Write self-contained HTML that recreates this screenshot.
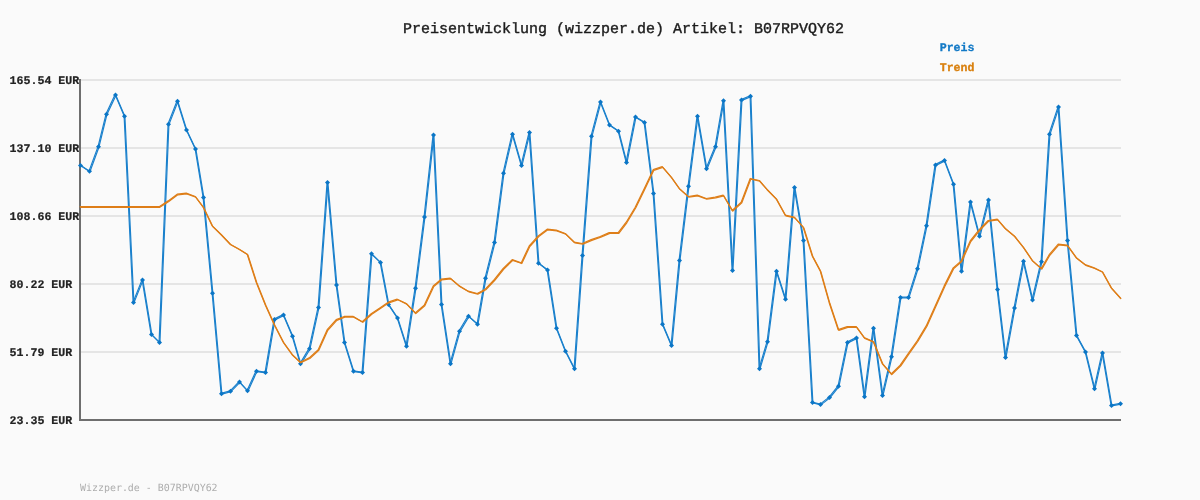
<!DOCTYPE html>
<html lang="de"><head><meta charset="utf-8"><title>Preisentwicklung (wizzper.de) Artikel: B07RPVQY62</title>
<style>
html,body{margin:0;padding:0;background:#fafafa;}
body{width:1200px;height:500px;overflow:hidden;}
svg{display:block;text-rendering:geometricPrecision;}
.title{font-family:"Liberation Mono","DejaVu Sans Mono",monospace;font-size:15px;fill:#1c1c1c;stroke:#1c1c1c;stroke-width:.4px;}
.ylab text{font-family:"Liberation Mono","DejaVu Sans Mono",monospace;font-weight:bold;font-size:11.6px;fill:#222;stroke:#222;stroke-width:.2px;}
.leg{font-family:"Liberation Mono","DejaVu Sans Mono",monospace;font-weight:bold;font-size:11.6px;}
.foot{font-family:"DejaVu Sans Mono","Liberation Mono",monospace;font-size:9.95px;fill:#adadad;}
</style></head><body>
<svg width="1200" height="500" viewBox="0 0 1200 500">
<rect width="1200" height="500" fill="#fafafa"/>
<text class="title" x="403" y="32.5">Preisentwicklung (wizzper.de) Artikel: B07RPVQY62</text>
<text class="leg" x="939.7" y="51.2" fill="#1279c6" stroke="#1279c6" stroke-width=".3">Preis</text>
<text class="leg" x="939.7" y="71.2" fill="#d9800f" stroke="#d9800f" stroke-width=".3">Trend</text>
<rect x="80" y="79" width="1041" height="2" fill="#e5e5e5"/><rect x="80" y="147" width="1041" height="2" fill="#e5e5e5"/><rect x="80" y="215" width="1041" height="2" fill="#e5e5e5"/><rect x="80" y="283" width="1041" height="2" fill="#e5e5e5"/><rect x="80" y="351" width="1041" height="2" fill="#e5e5e5"/>
<g class="ylab"><text x="9.6" y="84">165.54 EUR</text><text x="9.6" y="152">137.10 EUR</text><text x="9.6" y="220">108.66 EUR</text><text x="9.6" y="288">80.22 EUR</text><text x="9.6" y="356">51.79 EUR</text><text x="9.6" y="424">23.35 EUR</text></g>
<rect x="79" y="79" width="2" height="342" fill="#6e6e6e"/>
<rect x="79" y="419" width="1042" height="2" fill="#6e6e6e"/>
<g fill="none" stroke="#1a80cc" stroke-width="1.2" stroke-linejoin="round" stroke-linecap="round"><polyline id="p1a80cc" points="80.5,165.4 89.5,171.3 98.5,146.8 106.5,114.2 115.5,95.0 124.5,116.2 133.5,302.5 142.5,280.0 151.5,334.5 159.5,342.5 168.5,124.2 177.5,101.2 186.5,130.0 195.5,149.0 203.5,197.5 212.5,293.2 221.5,393.8 230.5,391.2 239.5,382.0 247.5,390.8 256.5,371.2 265.5,372.5 274.5,319.5 283.5,315.0 292.5,336.2 300.5,363.8 309.5,348.8 318.5,307.5 327.5,182.5 336.5,285.0 344.5,342.5 353.5,371.2 362.5,372.5 371.5,253.8 380.5,262.5 388.5,304.5 397.5,318.0 406.5,346.2 415.5,288.2 424.5,217.0 433.5,135.0 441.5,304.5 450.5,363.8 459.5,331.2 468.5,316.2 477.5,324.2 485.5,278.2 494.5,242.5 503.5,173.2 512.5,134.2 521.5,165.5 529.5,132.5 538.5,263.2 547.5,270.0 556.5,328.2 565.5,351.2 574.5,368.8 582.5,255.5 591.5,136.2 600.5,102.0 609.5,125.0 618.5,131.2 626.5,162.5 635.5,117.0 644.5,122.5 653.5,193.4 662.5,324.2 671.5,345.5 679.5,260.5 688.5,186.2 697.5,116.2 706.5,168.8 715.5,146.8 723.5,100.8 732.5,270.5 741.5,100.0 750.5,96.2 759.5,368.8 767.5,341.8 776.5,271.2 785.5,299.2 794.5,187.5 803.5,240.5 812.5,402.5 820.5,404.5 829.5,397.5 838.5,386.2 847.5,342.5 856.5,338.0 864.5,396.8 873.5,328.2 882.5,395.5 891.5,356.8 900.5,297.5 908.5,297.5 917.5,268.8 926.5,225.8 935.5,165.0 944.5,160.5 953.5,184.2 961.5,271.2 970.5,202.0 979.5,236.2 988.5,200.0 997.5,289.5 1005.5,357.5 1014.5,308.0 1023.5,261.2 1032.5,300.0 1041.5,261.8 1049.5,134.2 1058.5,107.0 1067.5,240.5 1076.5,335.5 1085.5,352.0 1094.5,388.8 1102.5,353.0 1111.5,405.5 1120.5,403.8" transform="translate(-0.4,-0.4)"/><polyline points="80.5,165.4 89.5,171.3 98.5,146.8 106.5,114.2 115.5,95.0 124.5,116.2 133.5,302.5 142.5,280.0 151.5,334.5 159.5,342.5 168.5,124.2 177.5,101.2 186.5,130.0 195.5,149.0 203.5,197.5 212.5,293.2 221.5,393.8 230.5,391.2 239.5,382.0 247.5,390.8 256.5,371.2 265.5,372.5 274.5,319.5 283.5,315.0 292.5,336.2 300.5,363.8 309.5,348.8 318.5,307.5 327.5,182.5 336.5,285.0 344.5,342.5 353.5,371.2 362.5,372.5 371.5,253.8 380.5,262.5 388.5,304.5 397.5,318.0 406.5,346.2 415.5,288.2 424.5,217.0 433.5,135.0 441.5,304.5 450.5,363.8 459.5,331.2 468.5,316.2 477.5,324.2 485.5,278.2 494.5,242.5 503.5,173.2 512.5,134.2 521.5,165.5 529.5,132.5 538.5,263.2 547.5,270.0 556.5,328.2 565.5,351.2 574.5,368.8 582.5,255.5 591.5,136.2 600.5,102.0 609.5,125.0 618.5,131.2 626.5,162.5 635.5,117.0 644.5,122.5 653.5,193.4 662.5,324.2 671.5,345.5 679.5,260.5 688.5,186.2 697.5,116.2 706.5,168.8 715.5,146.8 723.5,100.8 732.5,270.5 741.5,100.0 750.5,96.2 759.5,368.8 767.5,341.8 776.5,271.2 785.5,299.2 794.5,187.5 803.5,240.5 812.5,402.5 820.5,404.5 829.5,397.5 838.5,386.2 847.5,342.5 856.5,338.0 864.5,396.8 873.5,328.2 882.5,395.5 891.5,356.8 900.5,297.5 908.5,297.5 917.5,268.8 926.5,225.8 935.5,165.0 944.5,160.5 953.5,184.2 961.5,271.2 970.5,202.0 979.5,236.2 988.5,200.0 997.5,289.5 1005.5,357.5 1014.5,308.0 1023.5,261.2 1032.5,300.0 1041.5,261.8 1049.5,134.2 1058.5,107.0 1067.5,240.5 1076.5,335.5 1085.5,352.0 1094.5,388.8 1102.5,353.0 1111.5,405.5 1120.5,403.8" transform="translate(0.4,0.4)"/></g>
<g fill="#0b76c6"><path d="M80.5 162.90l2.5 2.5l-2.5 2.5l-2.5-2.5z"/><path d="M89.5 168.85l2.5 2.5l-2.5 2.5l-2.5-2.5z"/><path d="M98.5 144.25l2.5 2.5l-2.5 2.5l-2.5-2.5z"/><path d="M106.5 111.75l2.5 2.5l-2.5 2.5l-2.5-2.5z"/><path d="M115.5 92.50l2.5 2.5l-2.5 2.5l-2.5-2.5z"/><path d="M124.5 113.75l2.5 2.5l-2.5 2.5l-2.5-2.5z"/><path d="M133.5 300.00l2.5 2.5l-2.5 2.5l-2.5-2.5z"/><path d="M142.5 277.50l2.5 2.5l-2.5 2.5l-2.5-2.5z"/><path d="M151.5 332.00l2.5 2.5l-2.5 2.5l-2.5-2.5z"/><path d="M159.5 340.00l2.5 2.5l-2.5 2.5l-2.5-2.5z"/><path d="M168.5 121.75l2.5 2.5l-2.5 2.5l-2.5-2.5z"/><path d="M177.5 98.75l2.5 2.5l-2.5 2.5l-2.5-2.5z"/><path d="M186.5 127.50l2.5 2.5l-2.5 2.5l-2.5-2.5z"/><path d="M195.5 146.50l2.5 2.5l-2.5 2.5l-2.5-2.5z"/><path d="M203.5 195.00l2.5 2.5l-2.5 2.5l-2.5-2.5z"/><path d="M212.5 290.75l2.5 2.5l-2.5 2.5l-2.5-2.5z"/><path d="M221.5 391.25l2.5 2.5l-2.5 2.5l-2.5-2.5z"/><path d="M230.5 388.75l2.5 2.5l-2.5 2.5l-2.5-2.5z"/><path d="M239.5 379.50l2.5 2.5l-2.5 2.5l-2.5-2.5z"/><path d="M247.5 388.25l2.5 2.5l-2.5 2.5l-2.5-2.5z"/><path d="M256.5 368.75l2.5 2.5l-2.5 2.5l-2.5-2.5z"/><path d="M265.5 370.00l2.5 2.5l-2.5 2.5l-2.5-2.5z"/><path d="M274.5 317.00l2.5 2.5l-2.5 2.5l-2.5-2.5z"/><path d="M283.5 312.50l2.5 2.5l-2.5 2.5l-2.5-2.5z"/><path d="M292.5 333.75l2.5 2.5l-2.5 2.5l-2.5-2.5z"/><path d="M300.5 361.25l2.5 2.5l-2.5 2.5l-2.5-2.5z"/><path d="M309.5 346.25l2.5 2.5l-2.5 2.5l-2.5-2.5z"/><path d="M318.5 305.00l2.5 2.5l-2.5 2.5l-2.5-2.5z"/><path d="M327.5 180.00l2.5 2.5l-2.5 2.5l-2.5-2.5z"/><path d="M336.5 282.50l2.5 2.5l-2.5 2.5l-2.5-2.5z"/><path d="M344.5 340.00l2.5 2.5l-2.5 2.5l-2.5-2.5z"/><path d="M353.5 368.75l2.5 2.5l-2.5 2.5l-2.5-2.5z"/><path d="M362.5 370.00l2.5 2.5l-2.5 2.5l-2.5-2.5z"/><path d="M371.5 251.25l2.5 2.5l-2.5 2.5l-2.5-2.5z"/><path d="M380.5 260.00l2.5 2.5l-2.5 2.5l-2.5-2.5z"/><path d="M388.5 302.00l2.5 2.5l-2.5 2.5l-2.5-2.5z"/><path d="M397.5 315.50l2.5 2.5l-2.5 2.5l-2.5-2.5z"/><path d="M406.5 343.75l2.5 2.5l-2.5 2.5l-2.5-2.5z"/><path d="M415.5 285.75l2.5 2.5l-2.5 2.5l-2.5-2.5z"/><path d="M424.5 214.50l2.5 2.5l-2.5 2.5l-2.5-2.5z"/><path d="M433.5 132.50l2.5 2.5l-2.5 2.5l-2.5-2.5z"/><path d="M441.5 302.00l2.5 2.5l-2.5 2.5l-2.5-2.5z"/><path d="M450.5 361.25l2.5 2.5l-2.5 2.5l-2.5-2.5z"/><path d="M459.5 328.75l2.5 2.5l-2.5 2.5l-2.5-2.5z"/><path d="M468.5 313.75l2.5 2.5l-2.5 2.5l-2.5-2.5z"/><path d="M477.5 321.75l2.5 2.5l-2.5 2.5l-2.5-2.5z"/><path d="M485.5 275.75l2.5 2.5l-2.5 2.5l-2.5-2.5z"/><path d="M494.5 240.00l2.5 2.5l-2.5 2.5l-2.5-2.5z"/><path d="M503.5 170.75l2.5 2.5l-2.5 2.5l-2.5-2.5z"/><path d="M512.5 131.75l2.5 2.5l-2.5 2.5l-2.5-2.5z"/><path d="M521.5 163.00l2.5 2.5l-2.5 2.5l-2.5-2.5z"/><path d="M529.5 130.00l2.5 2.5l-2.5 2.5l-2.5-2.5z"/><path d="M538.5 260.75l2.5 2.5l-2.5 2.5l-2.5-2.5z"/><path d="M547.5 267.50l2.5 2.5l-2.5 2.5l-2.5-2.5z"/><path d="M556.5 325.75l2.5 2.5l-2.5 2.5l-2.5-2.5z"/><path d="M565.5 348.75l2.5 2.5l-2.5 2.5l-2.5-2.5z"/><path d="M574.5 366.25l2.5 2.5l-2.5 2.5l-2.5-2.5z"/><path d="M582.5 253.00l2.5 2.5l-2.5 2.5l-2.5-2.5z"/><path d="M591.5 133.75l2.5 2.5l-2.5 2.5l-2.5-2.5z"/><path d="M600.5 99.50l2.5 2.5l-2.5 2.5l-2.5-2.5z"/><path d="M609.5 122.50l2.5 2.5l-2.5 2.5l-2.5-2.5z"/><path d="M618.5 128.75l2.5 2.5l-2.5 2.5l-2.5-2.5z"/><path d="M626.5 160.00l2.5 2.5l-2.5 2.5l-2.5-2.5z"/><path d="M635.5 114.50l2.5 2.5l-2.5 2.5l-2.5-2.5z"/><path d="M644.5 120.00l2.5 2.5l-2.5 2.5l-2.5-2.5z"/><path d="M653.5 190.90l2.5 2.5l-2.5 2.5l-2.5-2.5z"/><path d="M662.5 321.75l2.5 2.5l-2.5 2.5l-2.5-2.5z"/><path d="M671.5 343.00l2.5 2.5l-2.5 2.5l-2.5-2.5z"/><path d="M679.5 258.00l2.5 2.5l-2.5 2.5l-2.5-2.5z"/><path d="M688.5 183.75l2.5 2.5l-2.5 2.5l-2.5-2.5z"/><path d="M697.5 113.75l2.5 2.5l-2.5 2.5l-2.5-2.5z"/><path d="M706.5 166.25l2.5 2.5l-2.5 2.5l-2.5-2.5z"/><path d="M715.5 144.25l2.5 2.5l-2.5 2.5l-2.5-2.5z"/><path d="M723.5 98.25l2.5 2.5l-2.5 2.5l-2.5-2.5z"/><path d="M732.5 268.00l2.5 2.5l-2.5 2.5l-2.5-2.5z"/><path d="M741.5 97.50l2.5 2.5l-2.5 2.5l-2.5-2.5z"/><path d="M750.5 93.75l2.5 2.5l-2.5 2.5l-2.5-2.5z"/><path d="M759.5 366.25l2.5 2.5l-2.5 2.5l-2.5-2.5z"/><path d="M767.5 339.25l2.5 2.5l-2.5 2.5l-2.5-2.5z"/><path d="M776.5 268.75l2.5 2.5l-2.5 2.5l-2.5-2.5z"/><path d="M785.5 296.75l2.5 2.5l-2.5 2.5l-2.5-2.5z"/><path d="M794.5 185.00l2.5 2.5l-2.5 2.5l-2.5-2.5z"/><path d="M803.5 238.00l2.5 2.5l-2.5 2.5l-2.5-2.5z"/><path d="M812.5 400.00l2.5 2.5l-2.5 2.5l-2.5-2.5z"/><path d="M820.5 402.00l2.5 2.5l-2.5 2.5l-2.5-2.5z"/><path d="M829.5 395.00l2.5 2.5l-2.5 2.5l-2.5-2.5z"/><path d="M838.5 383.75l2.5 2.5l-2.5 2.5l-2.5-2.5z"/><path d="M847.5 340.00l2.5 2.5l-2.5 2.5l-2.5-2.5z"/><path d="M856.5 335.50l2.5 2.5l-2.5 2.5l-2.5-2.5z"/><path d="M864.5 394.25l2.5 2.5l-2.5 2.5l-2.5-2.5z"/><path d="M873.5 325.75l2.5 2.5l-2.5 2.5l-2.5-2.5z"/><path d="M882.5 393.00l2.5 2.5l-2.5 2.5l-2.5-2.5z"/><path d="M891.5 354.25l2.5 2.5l-2.5 2.5l-2.5-2.5z"/><path d="M900.5 295.00l2.5 2.5l-2.5 2.5l-2.5-2.5z"/><path d="M908.5 295.00l2.5 2.5l-2.5 2.5l-2.5-2.5z"/><path d="M917.5 266.25l2.5 2.5l-2.5 2.5l-2.5-2.5z"/><path d="M926.5 223.25l2.5 2.5l-2.5 2.5l-2.5-2.5z"/><path d="M935.5 162.50l2.5 2.5l-2.5 2.5l-2.5-2.5z"/><path d="M944.5 158.00l2.5 2.5l-2.5 2.5l-2.5-2.5z"/><path d="M953.5 181.75l2.5 2.5l-2.5 2.5l-2.5-2.5z"/><path d="M961.5 268.75l2.5 2.5l-2.5 2.5l-2.5-2.5z"/><path d="M970.5 199.50l2.5 2.5l-2.5 2.5l-2.5-2.5z"/><path d="M979.5 233.75l2.5 2.5l-2.5 2.5l-2.5-2.5z"/><path d="M988.5 197.50l2.5 2.5l-2.5 2.5l-2.5-2.5z"/><path d="M997.5 287.00l2.5 2.5l-2.5 2.5l-2.5-2.5z"/><path d="M1005.5 355.00l2.5 2.5l-2.5 2.5l-2.5-2.5z"/><path d="M1014.5 305.50l2.5 2.5l-2.5 2.5l-2.5-2.5z"/><path d="M1023.5 258.75l2.5 2.5l-2.5 2.5l-2.5-2.5z"/><path d="M1032.5 297.50l2.5 2.5l-2.5 2.5l-2.5-2.5z"/><path d="M1041.5 259.25l2.5 2.5l-2.5 2.5l-2.5-2.5z"/><path d="M1049.5 131.75l2.5 2.5l-2.5 2.5l-2.5-2.5z"/><path d="M1058.5 104.50l2.5 2.5l-2.5 2.5l-2.5-2.5z"/><path d="M1067.5 238.00l2.5 2.5l-2.5 2.5l-2.5-2.5z"/><path d="M1076.5 333.00l2.5 2.5l-2.5 2.5l-2.5-2.5z"/><path d="M1085.5 349.50l2.5 2.5l-2.5 2.5l-2.5-2.5z"/><path d="M1094.5 386.25l2.5 2.5l-2.5 2.5l-2.5-2.5z"/><path d="M1102.5 350.50l2.5 2.5l-2.5 2.5l-2.5-2.5z"/><path d="M1111.5 403.00l2.5 2.5l-2.5 2.5l-2.5-2.5z"/><path d="M1120.5 401.25l2.5 2.5l-2.5 2.5l-2.5-2.5z"/></g>
<g fill="none" stroke="#de7e18" stroke-width="1.25" stroke-linejoin="round" stroke-linecap="round"><polyline id="pde7e18" points="80.5,207.0 89.5,207.0 98.5,207.0 106.5,207.0 115.5,207.0 124.5,207.0 133.5,207.0 142.5,207.0 151.5,207.0 159.5,207.0 168.5,201.2 177.5,194.5 186.5,193.5 195.5,196.8 203.5,207.5 212.5,226.2 221.5,235.0 230.5,244.5 239.5,249.5 247.5,254.5 256.5,282.5 265.5,305.0 274.5,325.0 283.5,342.5 292.5,355.0 300.5,362.5 309.5,358.2 318.5,350.0 327.5,330.0 336.5,320.0 344.5,316.8 353.5,316.8 362.5,322.0 371.5,314.0 380.5,308.0 388.5,302.5 397.5,299.5 406.5,303.8 415.5,313.2 424.5,305.5 433.5,286.2 441.5,279.5 450.5,278.5 459.5,286.2 468.5,291.5 477.5,293.8 485.5,289.5 494.5,280.0 503.5,268.8 512.5,260.0 521.5,263.2 529.5,246.2 538.5,236.2 547.5,229.5 556.5,230.5 565.5,233.8 574.5,242.5 582.5,243.8 591.5,240.0 600.5,236.8 609.5,233.0 618.5,233.0 626.5,222.5 635.5,207.5 644.5,189.0 653.5,170.0 662.5,167.0 671.5,177.5 679.5,188.8 688.5,196.8 697.5,195.5 706.5,198.8 715.5,197.5 723.5,195.5 732.5,210.8 741.5,202.5 750.5,178.8 759.5,180.8 767.5,190.0 776.5,199.2 785.5,215.5 794.5,217.5 803.5,227.5 812.5,256.2 820.5,271.2 829.5,303.0 838.5,330.0 847.5,327.0 856.5,327.0 864.5,338.0 873.5,341.8 882.5,363.8 891.5,374.2 900.5,365.5 908.5,353.8 917.5,341.2 926.5,326.2 935.5,306.2 944.5,286.2 953.5,268.2 961.5,261.2 970.5,241.2 979.5,230.0 988.5,220.8 997.5,219.5 1005.5,228.8 1014.5,236.2 1023.5,247.5 1032.5,260.8 1041.5,268.8 1049.5,255.0 1058.5,244.5 1067.5,245.5 1076.5,258.0 1085.5,265.0 1094.5,268.2 1102.5,272.0 1111.5,288.2 1120.5,298.2" transform="translate(-0.3,-0.3)"/><polyline points="80.5,207.0 89.5,207.0 98.5,207.0 106.5,207.0 115.5,207.0 124.5,207.0 133.5,207.0 142.5,207.0 151.5,207.0 159.5,207.0 168.5,201.2 177.5,194.5 186.5,193.5 195.5,196.8 203.5,207.5 212.5,226.2 221.5,235.0 230.5,244.5 239.5,249.5 247.5,254.5 256.5,282.5 265.5,305.0 274.5,325.0 283.5,342.5 292.5,355.0 300.5,362.5 309.5,358.2 318.5,350.0 327.5,330.0 336.5,320.0 344.5,316.8 353.5,316.8 362.5,322.0 371.5,314.0 380.5,308.0 388.5,302.5 397.5,299.5 406.5,303.8 415.5,313.2 424.5,305.5 433.5,286.2 441.5,279.5 450.5,278.5 459.5,286.2 468.5,291.5 477.5,293.8 485.5,289.5 494.5,280.0 503.5,268.8 512.5,260.0 521.5,263.2 529.5,246.2 538.5,236.2 547.5,229.5 556.5,230.5 565.5,233.8 574.5,242.5 582.5,243.8 591.5,240.0 600.5,236.8 609.5,233.0 618.5,233.0 626.5,222.5 635.5,207.5 644.5,189.0 653.5,170.0 662.5,167.0 671.5,177.5 679.5,188.8 688.5,196.8 697.5,195.5 706.5,198.8 715.5,197.5 723.5,195.5 732.5,210.8 741.5,202.5 750.5,178.8 759.5,180.8 767.5,190.0 776.5,199.2 785.5,215.5 794.5,217.5 803.5,227.5 812.5,256.2 820.5,271.2 829.5,303.0 838.5,330.0 847.5,327.0 856.5,327.0 864.5,338.0 873.5,341.8 882.5,363.8 891.5,374.2 900.5,365.5 908.5,353.8 917.5,341.2 926.5,326.2 935.5,306.2 944.5,286.2 953.5,268.2 961.5,261.2 970.5,241.2 979.5,230.0 988.5,220.8 997.5,219.5 1005.5,228.8 1014.5,236.2 1023.5,247.5 1032.5,260.8 1041.5,268.8 1049.5,255.0 1058.5,244.5 1067.5,245.5 1076.5,258.0 1085.5,265.0 1094.5,268.2 1102.5,272.0 1111.5,288.2 1120.5,298.2" transform="translate(0.3,0.3)"/></g>
<text class="foot" x="80" y="490.6">Wizzper.de - B07RPVQY62</text>
</svg>
</body></html>
